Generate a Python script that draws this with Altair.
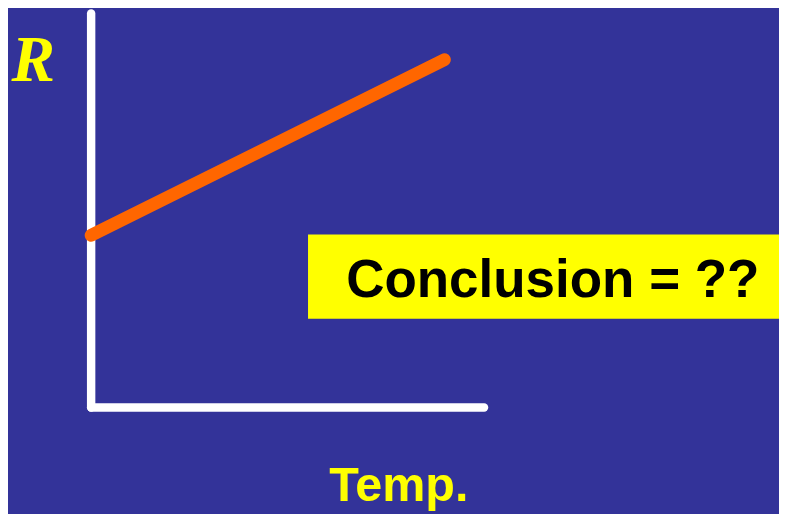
import altair as alt
import pandas as pd

# Diagram values (axis units 0-10)
temp = [0.0, 8.99]
resistance = [4.37, 8.83]

# Axis lines (axis units)
axis_x = [0.0, 0.0]
axis_x2 = [10.0, 0.0]
axis_y = [0.0, 0.0]
axis_y2 = [0.0, 10.0]

# Annotation box (in axis units) and its label
box_x = [5.52]
box_x2 = [17.6]
box_y = [4.39]
box_y2 = [2.25]
label_x = [11.75]
label_y = [2.81]
label_text = ["Conclusion = ??"]

line_df = pd.DataFrame({"Temp": temp, "R": resistance})
axes_df = pd.DataFrame({"x": axis_x, "x2": axis_x2, "y": axis_y, "y2": axis_y2})
box_df = pd.DataFrame({"x": box_x, "x2": box_x2, "y": box_y, "y2": box_y2})
label_df = pd.DataFrame({"x": label_x, "y": label_y, "text": label_text})

xs = alt.Scale(domain=[0, 10], nice=False, zero=False)
ys = alt.Scale(domain=[0, 10], nice=False, zero=False)

x_axis = alt.Axis(
    title="Temp.", labels=False, ticks=False, grid=False, domain=False,
    titleColor="#FFFF00", titleFont="Liberation Sans", titleFontWeight="bold",
    titleFontSize=49, titleAlign="left", titleBaseline="alphabetic",
    titleX=240, titleY=94, titleAnchor="start",
)
y_axis = alt.Axis(
    title="R", labels=False, ticks=False, grid=False, domain=False,
    titleColor="#FFFF00", titleFont="Liberation Serif", titleFontWeight="bold",
    titleFontStyle="italic", titleFontSize=66, titleAngle=0,
    titleAlign="left", titleBaseline="alphabetic",
    titleX=-81, titleY=68, titleAnchor="start",
)

axes = alt.Chart(axes_df).mark_rule(
    color="white", strokeWidth=8.5, strokeCap="round", clip=False
).encode(
    x=alt.X("x:Q", scale=xs, axis=x_axis),
    x2="x2:Q",
    y=alt.Y("y:Q", scale=ys, axis=y_axis),
    y2="y2:Q",
)

line = alt.Chart(line_df).mark_line(
    color="#FF6600", strokeWidth=13, strokeCap="round", clip=False
).encode(
    x=alt.X("Temp:Q", scale=xs),
    y=alt.Y("R:Q", scale=ys),
)

box = alt.Chart(box_df).mark_rect(color="#FFFF00", clip=False).encode(
    x=alt.X("x:Q", scale=xs),
    x2="x2:Q",
    y=alt.Y("y:Q", scale=ys),
    y2="y2:Q",
)

label = alt.Chart(label_df).mark_text(
    font="Liberation Sans", fontWeight="bold", fontSize=53.5, color="black",
    align="center", baseline="alphabetic", clip=False
).encode(
    x=alt.X("x:Q", scale=xs),
    y=alt.Y("y:Q", scale=ys),
    text="text:N",
)

chart = alt.layer(axes, box, label, line).properties(
    width=397, height=398,
    padding={"left": 84, "top": 3, "right": 298, "bottom": 105},
    autosize=alt.AutoSizeParams(type="none"),
    background="#333399",
).configure_view(stroke=None)

chart.save("out.html", embed_options={"renderer": "svg", "actions": False})
